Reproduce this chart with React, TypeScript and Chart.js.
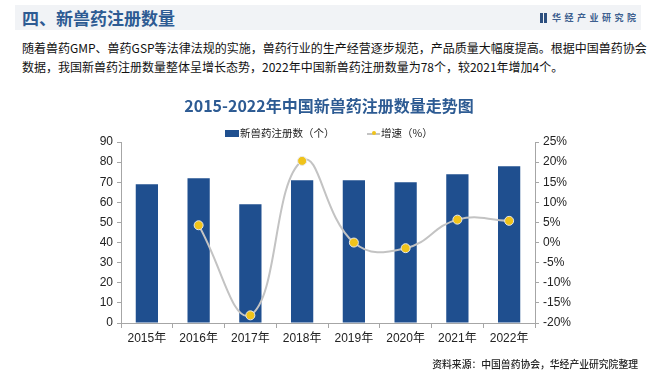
import React, { useEffect, useRef } from "react";
import { Chart, registerables } from "chart.js";

Chart.register(...registerables);

const categories = ["2015年", "2016年", "2017年", "2018年", "2019年", "2020年", "2021年", "2022年"];
const registrations = [69, 72, 59, 71, 71, 70, 74, 78];
const growth = [null, 4.3, -18.1, 20.3, 0, -1.4, 5.7, 5.4];
const leftTicks = { min: 0, max: 90, step: 10 };
const rightTicks = { min: -20, max: 25, step: 5 };

const FONT = "'Liberation Sans', Arial, 'Noto Sans CJK SC', sans-serif";
const CJK = "'Noto Sans CJK SC', 'Liberation Sans', sans-serif";
const BAR = "#1f4f8f";
const BLUE_TEXT = "#2d5b93";

export default function App() {
  const ref = useRef<HTMLCanvasElement | null>(null);

  useEffect(() => {
    document.body.style.margin = "0";
    const ctx = ref.current!.getContext("2d")!;
    const chart = new Chart(ctx, {
      data: {
        labels: categories,
        datasets: [
          {
            type: "line",
            label: "增速（%）",
            data: growth as any,
            yAxisID: "y1",
            borderColor: "#c3c3c3",
            borderWidth: 2,
            tension: 0.45,
            pointRadius: 4.5,
            pointBackgroundColor: "#f0c31a",
            pointBorderColor: "#e8e8e8",
            pointBorderWidth: 1,
            order: 0,
          },
          {
            type: "bar",
            label: "新兽药注册数（个）",
            data: registrations,
            yAxisID: "y",
            backgroundColor: BAR,
            barPercentage: 0.43,
            categoryPercentage: 1,
            order: 1,
          },
        ],
      },
      options: {
        animation: false,
        responsive: false,
        maintainAspectRatio: false,
        layout: { padding: { top: 142, left: 0, right: 0, bottom: 0 } },
        plugins: { legend: { display: false }, tooltip: { enabled: false }, title: { display: false } },
        scales: {
          x: {
            offset: true,
            grid: { display: true, drawOnChartArea: false, offset: true, tickLength: 5, color: "#a6a6a6" },
            border: { display: true, color: "#a6a6a6", width: 1 },
            ticks: { color: "#222", font: { family: FONT, size: 12 }, padding: 3 },
            afterFit: (s: any) => { s.height = 51; },
          },
          y: {
            position: "left",
            min: leftTicks.min,
            max: leftTicks.max,
            ticks: { stepSize: leftTicks.step, color: "#222", font: { family: FONT, size: 12 }, padding: 4 },
            grid: { display: true, drawOnChartArea: false, tickLength: 4, color: "#a6a6a6" },
            border: { display: true, color: "#a6a6a6", width: 1 },
            afterFit: (s: any) => { s.width = 121; },
          },
          y1: {
            position: "right",
            min: rightTicks.min,
            max: rightTicks.max,
            ticks: {
              stepSize: rightTicks.step,
              color: "#222",
              font: { family: FONT, size: 12 },
              padding: 4,
              callback: (v: any) => `${v}%`,
            },
            grid: { display: true, drawOnChartArea: false, tickLength: 4, color: "#a6a6a6" },
            border: { display: true, color: "#a6a6a6", width: 1 },
            afterFit: (s: any) => { s.width = 125; },
          },
        },
      },
    } as any);
    return () => chart.destroy();
  }, []);

  return (
    <div style={{ position: "fixed", left: 0, top: 0, width: 660, height: 374, background: "#fff", overflow: "hidden", fontFamily: CJK }}>
      <div style={{ position: "absolute", left: 15, top: 5, width: 626, height: 25, background: "#f1f3f6" }} />
      <div style={{ position: "absolute", left: 22, top: 6, fontSize: 17, fontWeight: 700, color: BLUE_TEXT, lineHeight: "24px", whiteSpace: "nowrap" }}>
        四、新兽药注册数量
      </div>
      <div style={{ position: "absolute", left: 540, top: 13, width: 3, height: 10, background: "#2d4f7f" }} />
      <div style={{ position: "absolute", left: 544, top: 13, width: 3, height: 10, background: "#2d4f7f" }} />
      <div style={{ position: "absolute", left: 552, top: 10, fontSize: 9, fontWeight: 700, color: "#3d5f8f", letterSpacing: 3.5, lineHeight: "16px", whiteSpace: "nowrap" }}>
        华经产业研究院
      </div>
      <div style={{ position: "absolute", left: 22, top: 38, fontSize: 12, color: "#111", lineHeight: "19px", whiteSpace: "nowrap" }}>
        随着兽药GMP、兽药GSP等法律法规的实施，兽药行业的生产经营逐步规范，产品质量大幅度提高。根据中国兽药协会
        <br />
        数据，我国新兽药注册数量整体呈增长态势，2022年中国新兽药注册数量为78个，较2021年增加4个。
      </div>
      <canvas ref={ref} width={660} height={374} style={{ position: "absolute", left: 0, top: 0, width: 660, height: 374 }} />
      <div style={{ position: "absolute", left: 0, width: 658, top: 93, textAlign: "center", fontSize: 16, fontWeight: 700, color: BLUE_TEXT, lineHeight: "24px", whiteSpace: "nowrap" }}>
        2015-2022年中国新兽药注册数量走势图
      </div>
      <div style={{ position: "absolute", left: 225, top: 130, width: 14, height: 7, background: BAR }} />
      <div style={{ position: "absolute", left: 240, top: 125, fontSize: 10.5, color: "#222", lineHeight: "16px", whiteSpace: "nowrap" }}>
        新兽药注册数（个）
      </div>
      <div style={{ position: "absolute", left: 367, top: 133, width: 13, height: 1.5, background: "#c3c3c3" }} />
      <div style={{ position: "absolute", left: 371.5, top: 131, width: 4, height: 4, borderRadius: 3, background: "#f0c31a" }} />
      <div style={{ position: "absolute", left: 381, top: 125, fontSize: 10.5, color: "#222", lineHeight: "16px", whiteSpace: "nowrap" }}>
        增速（%）
      </div>
      <div style={{ position: "absolute", right: 22, top: 357, fontSize: 9.8, color: "#222", fontWeight: 500, lineHeight: "14px", whiteSpace: "nowrap" }}>
        资料来源：中国兽药协会，华经产业研究院整理
      </div>
    </div>
  );
}
